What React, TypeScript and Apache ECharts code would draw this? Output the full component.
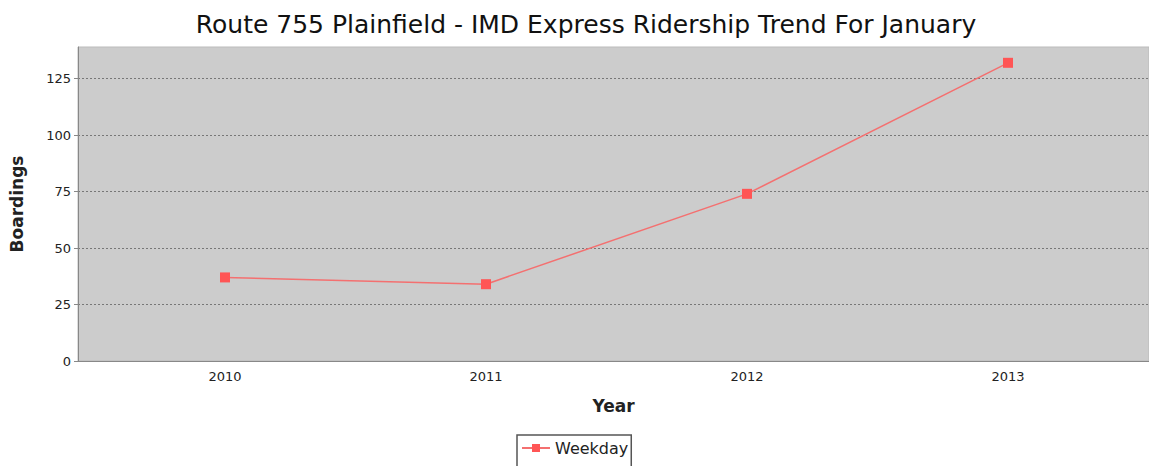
import React, { useEffect, useRef } from "react";
import * as echarts from "echarts";

const titleText = "Route 755 Plainfield - IMD Express Ridership Trend For January";
const years = ["2010", "2011", "2012", "2013"];
const weekday = [37, 34, 74, 132];
const seriesName = "Weekday";

export default function App() {
  const ref = useRef<HTMLDivElement>(null);
  useEffect(() => {
    if (!ref.current) return;
    const chart = echarts.init(ref.current, undefined, { renderer: "svg" });
    const font = "'DejaVu Sans', sans-serif";
    chart.setOption({
      animation: false,
      backgroundColor: "#ffffff",
      title: {
        text: titleText,
        left: 581,
        textAlign: "center",
        top: 7,
        textStyle: { fontFamily: font, fontSize: 25, fontWeight: "normal", color: "#111" },
      },
      legend: {
        data: [seriesName],
        top: 435,
        left: 517,
        borderColor: "#555",
        borderWidth: 1.5,
        borderRadius: 0,
        padding: [5, 3, 12, 4],
        itemWidth: 28,
        itemHeight: 10,
        itemGap: 4,
        textStyle: { fontFamily: font, fontSize: 16, color: "#222" },
      },
      grid: [
        { left: 77, top: 47, right: 0, bottom: 105, show: true, backgroundColor: "#cccccc", borderColor: "#bbbbbb", borderWidth: 1 },
        { left: 94.5, top: 47, width: 1044, bottom: 105 },
      ],
      xAxis: [
        {
          gridIndex: 0,
          type: "value",
          min: 0,
          max: 1,
          axisLine: { show: true, onZero: false, lineStyle: { color: "#888", width: 1 } },
          axisTick: { show: false },
          axisLabel: { show: false },
          splitLine: { show: false },
          name: "Year",
          nameLocation: "middle",
          nameGap: 36,
          nameTextStyle: { fontFamily: font, fontSize: 17, fontWeight: "bold", color: "#222" },
        },
        {
          gridIndex: 1,
          type: "category",
          data: years,
          boundaryGap: true,
          axisLine: { show: false },
          axisTick: { show: false },
          axisLabel: { fontFamily: font, fontSize: 13, color: "#222", margin: 9 },
        },
      ],
      yAxis: [
        {
          gridIndex: 0,
          type: "value",
          min: 0,
          max: 139,
          interval: 25,
          axisLine: { show: true, lineStyle: { color: "#888" } },
          axisTick: { show: true, length: 4, lineStyle: { color: "#888" } },
          axisLabel: { fontFamily: font, fontSize: 13, color: "#222", margin: 7, showMaxLabel: false },
          splitLine: { show: true, showMaxLine: false, lineStyle: { color: "#777", type: [2, 2], width: 1 } },
          name: "Boardings",
          nameLocation: "middle",
          nameRotate: 90,
          nameGap: 53,
          nameTextStyle: { fontFamily: font, fontSize: 17, fontWeight: "bold", color: "#222" },
        },
        {
          gridIndex: 1,
          type: "value",
          min: 0,
          max: 139,
          show: false,
          splitLine: { show: false },
        },
      ],
      series: [
        {
          name: seriesName,
          type: "line",
          xAxisIndex: 1,
          yAxisIndex: 1,
          data: weekday,
          symbol: "rect",
          symbolSize: 10,
          itemStyle: { color: "#ff5555" },
          lineStyle: { color: "#f47070", width: 1.5 },
        },
      ],
    });
    return () => chart.dispose();
  }, []);
  return <div ref={ref} style={{ width: 1149, height: 466, position: "absolute", left: 0, top: 0 }} />;
}
